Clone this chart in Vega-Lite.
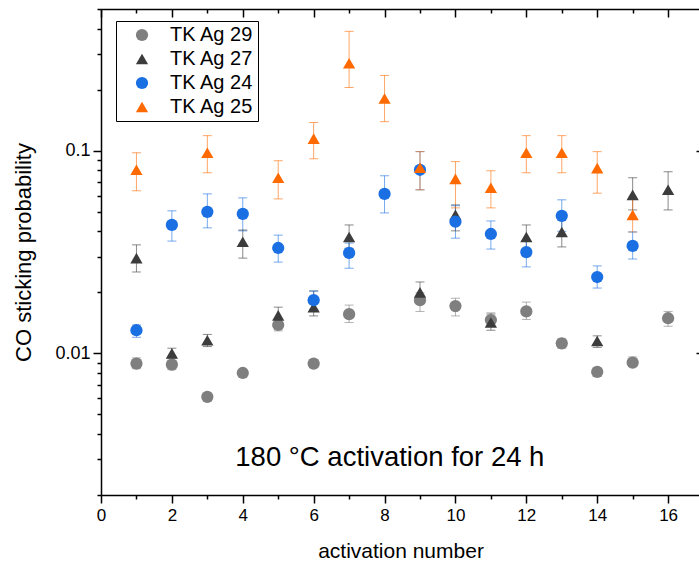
{
  "$schema": "https://vega.github.io/schema/vega-lite/v6.json",
  "width": 599,
  "height": 486,
  "autosize": {"type": "none"},
  "padding": {"left": 101, "top": 9, "right": 0, "bottom": 74},
  "background": "white",
  "config": {
    "view": {"stroke": null},
    "font": "Liberation Sans",
    "axis": {
      "domainColor": "#000000",
      "domainWidth": 1.5,
      "tickColor": "#000000",
      "tickWidth": 1.5,
      "grid": false,
      "labelFont": "Liberation Sans",
      "titleFont": "Liberation Sans",
      "labelColor": "#000000",
      "titleColor": "#000000",
      "titleFontWeight": "normal"
    }
  },
  "data": {
    "values": [
      {"series": "TK Ag 29", "n": 1, "p": 0.0089, "lo": 0.0084, "hi": 0.0095},
      {"series": "TK Ag 29", "n": 2, "p": 0.0088, "lo": 0.0083, "hi": 0.0094},
      {"series": "TK Ag 29", "n": 3, "p": 0.0061, "lo": 0.0059, "hi": 0.0063},
      {"series": "TK Ag 29", "n": 4, "p": 0.0080, "lo": 0.0077, "hi": 0.0083},
      {"series": "TK Ag 29", "n": 5, "p": 0.0138, "lo": 0.0129, "hi": 0.0147},
      {"series": "TK Ag 29", "n": 6, "p": 0.0089, "lo": 0.0085, "hi": 0.0093},
      {"series": "TK Ag 29", "n": 7, "p": 0.0156, "lo": 0.0142, "hi": 0.0173},
      {"series": "TK Ag 29", "n": 9, "p": 0.0183, "lo": 0.0161, "hi": 0.0199},
      {"series": "TK Ag 29", "n": 10, "p": 0.0171, "lo": 0.0153, "hi": 0.0187},
      {"series": "TK Ag 29", "n": 11, "p": 0.0146, "lo": 0.0137, "hi": 0.0155},
      {"series": "TK Ag 29", "n": 12, "p": 0.0161, "lo": 0.0147, "hi": 0.0179},
      {"series": "TK Ag 29", "n": 13, "p": 0.0112, "lo": 0.0106, "hi": 0.0118},
      {"series": "TK Ag 29", "n": 14, "p": 0.0081, "lo": 0.0077, "hi": 0.0084},
      {"series": "TK Ag 29", "n": 15, "p": 0.0090, "lo": 0.0087, "hi": 0.0096},
      {"series": "TK Ag 29", "n": 16, "p": 0.0149, "lo": 0.0136, "hi": 0.0161},
      {"series": "TK Ag 27", "n": 1, "p": 0.0295, "lo": 0.0252, "hi": 0.0343},
      {"series": "TK Ag 27", "n": 2, "p": 0.0100, "lo": 0.0095, "hi": 0.0106},
      {"series": "TK Ag 27", "n": 3, "p": 0.0116, "lo": 0.0108, "hi": 0.0124},
      {"series": "TK Ag 27", "n": 4, "p": 0.0355, "lo": 0.0295, "hi": 0.0406},
      {"series": "TK Ag 27", "n": 5, "p": 0.0154, "lo": 0.0140, "hi": 0.0169},
      {"series": "TK Ag 27", "n": 6, "p": 0.0169, "lo": 0.0153, "hi": 0.0203},
      {"series": "TK Ag 27", "n": 7, "p": 0.0375, "lo": 0.0330, "hi": 0.0430},
      {"series": "TK Ag 27", "n": 9, "p": 0.0200, "lo": 0.0178, "hi": 0.0225},
      {"series": "TK Ag 27", "n": 10, "p": 0.0482, "lo": 0.0402, "hi": 0.0540},
      {"series": "TK Ag 27", "n": 11, "p": 0.0142, "lo": 0.0130, "hi": 0.0158},
      {"series": "TK Ag 27", "n": 12, "p": 0.0375, "lo": 0.0325, "hi": 0.0430},
      {"series": "TK Ag 27", "n": 13, "p": 0.0397, "lo": 0.0335, "hi": 0.0470},
      {"series": "TK Ag 27", "n": 14, "p": 0.0115, "lo": 0.0107, "hi": 0.0122},
      {"series": "TK Ag 27", "n": 15, "p": 0.0605, "lo": 0.0510, "hi": 0.0735},
      {"series": "TK Ag 27", "n": 16, "p": 0.0641, "lo": 0.0510, "hi": 0.0787},
      {"series": "TK Ag 24", "n": 1, "p": 0.0130, "lo": 0.0120, "hi": 0.0138},
      {"series": "TK Ag 24", "n": 2, "p": 0.0430, "lo": 0.0358, "hi": 0.0505},
      {"series": "TK Ag 24", "n": 3, "p": 0.0499, "lo": 0.0416, "hi": 0.0612},
      {"series": "TK Ag 24", "n": 4, "p": 0.0488, "lo": 0.0402, "hi": 0.0585},
      {"series": "TK Ag 24", "n": 5, "p": 0.0331, "lo": 0.0282, "hi": 0.0383},
      {"series": "TK Ag 24", "n": 6, "p": 0.0183, "lo": 0.0165, "hi": 0.0203},
      {"series": "TK Ag 24", "n": 7, "p": 0.0313, "lo": 0.0263, "hi": 0.0350},
      {"series": "TK Ag 24", "n": 8, "p": 0.0612, "lo": 0.0493, "hi": 0.0752},
      {"series": "TK Ag 24", "n": 9, "p": 0.0805, "lo": 0.0641, "hi": 0.0989},
      {"series": "TK Ag 24", "n": 10, "p": 0.0446, "lo": 0.0370, "hi": 0.0535},
      {"series": "TK Ag 24", "n": 11, "p": 0.0388, "lo": 0.0327, "hi": 0.0450},
      {"series": "TK Ag 24", "n": 12, "p": 0.0316, "lo": 0.0267, "hi": 0.0360},
      {"series": "TK Ag 24", "n": 13, "p": 0.0477, "lo": 0.0400, "hi": 0.0572},
      {"series": "TK Ag 24", "n": 14, "p": 0.0238, "lo": 0.0210, "hi": 0.0270},
      {"series": "TK Ag 24", "n": 15, "p": 0.0339, "lo": 0.0292, "hi": 0.0397},
      {"series": "TK Ag 25", "n": 1, "p": 0.0805, "lo": 0.0634, "hi": 0.0977},
      {"series": "TK Ag 25", "n": 3, "p": 0.0977, "lo": 0.0778, "hi": 0.1186},
      {"series": "TK Ag 25", "n": 5, "p": 0.0735, "lo": 0.0578, "hi": 0.0892},
      {"series": "TK Ag 25", "n": 6, "p": 0.1146, "lo": 0.0912, "hi": 0.1377},
      {"series": "TK Ag 25", "n": 7, "p": 0.270, "lo": 0.205, "hi": 0.388},
      {"series": "TK Ag 25", "n": 8, "p": 0.181, "lo": 0.139, "hi": 0.235},
      {"series": "TK Ag 25", "n": 9, "p": 0.0824, "lo": 0.0641, "hi": 0.0989},
      {"series": "TK Ag 25", "n": 10, "p": 0.0726, "lo": 0.0522, "hi": 0.0883},
      {"series": "TK Ag 25", "n": 11, "p": 0.0656, "lo": 0.0522, "hi": 0.0796},
      {"series": "TK Ag 25", "n": 12, "p": 0.0977, "lo": 0.0778, "hi": 0.1186},
      {"series": "TK Ag 25", "n": 13, "p": 0.0977, "lo": 0.0778, "hi": 0.1186},
      {"series": "TK Ag 25", "n": 14, "p": 0.0820, "lo": 0.0617, "hi": 0.0989},
      {"series": "TK Ag 25", "n": 15, "p": 0.0482, "lo": 0.0397, "hi": 0.0578}
    ]
  },
  "resolve": {
    "axis": {"x": "independent", "y": "independent"},
    "legend": {"color": "independent", "shape": "independent"}
  },
  "layer": [
    {
      "mark": {"type": "rule", "strokeWidth": 1, "opacity": 0.6},
      "encoding": {
        "x": {
          "field": "n", "type": "quantitative",
          "scale": {"domain": [0, 16.9], "nice": false, "zero": false},
          "axis": {
            "orient": "bottom",
            "values": [0, 1, 2, 3, 4, 5, 6, 7, 8, 9, 10, 11, 12, 13, 14, 15, 16],
            "labelExpr": "datum.value % 2 === 0 ? datum.label : ''",
            "tickSize": {"condition": {"test": "datum.value % 2 === 0", "value": 8}, "value": 4},
            "labelFontSize": 17,
            "labelPadding": 4,
            "labelFlush": false,
            "title": "activation number",
            "titleFontSize": 21,
            "titlePadding": 17
          }
        },
        "y": {
          "field": "lo", "type": "quantitative",
          "scale": {"type": "log", "domain": [0.002, 0.5], "nice": false},
          "axis": {
            "orient": "left",
            "values": [0.002, 0.003, 0.004, 0.005, 0.006, 0.007, 0.008, 0.009, 0.01, 0.02, 0.03, 0.04, 0.05, 0.06, 0.07, 0.08, 0.09, 0.1, 0.2, 0.3, 0.4, 0.5],
            "labelExpr": "datum.value === 0.1 ? '0.1' : (datum.value === 0.01 ? '0.01' : '')",
            "tickSize": {"condition": {"test": "datum.value === 0.1 || datum.value === 0.01", "value": 8}, "value": 4},
            "labelFontSize": 18,
            "labelPadding": 3,
            "labelFlush": false,
            "title": "CO sticking probability",
            "titleFontSize": 22,
            "titlePadding": 19
          }
        },
        "y2": {"field": "hi"},
        "color": {
          "field": "series", "type": "nominal",
          "scale": {"domain": ["TK Ag 29", "TK Ag 27", "TK Ag 24", "TK Ag 25"], "range": ["#7f7f7f", "#3c3c3c", "#1a6fe3", "#ff6a00"]},
          "legend": null
        }
      }
    },
    {
      "mark": {"type": "tick", "orient": "horizontal", "size": 9, "thickness": 1, "opacity": 0.6},
      "encoding": {
        "x": {
          "field": "n", "type": "quantitative",
          "axis": {
            "orient": "top",
            "values": [0, 1, 2, 3, 4, 5, 6, 7, 8, 9, 10, 11, 12, 13, 14, 15, 16],
            "labels": false,
            "title": null,
            "tickSize": {"condition": {"test": "datum.value % 2 === 0", "value": -8}, "value": -4}
          }
        },
        "y": {
          "field": "lo", "type": "quantitative",
          "axis": {
            "orient": "right",
            "values": [0.01, 0.1],
            "labels": false,
            "title": null,
            "tickSize": -4
          }
        },
        "color": {"field": "series", "type": "nominal", "legend": null}
      }
    },
    {
      "mark": {"type": "tick", "orient": "horizontal", "size": 9, "thickness": 1, "opacity": 0.6},
      "encoding": {
        "x": {"field": "n", "type": "quantitative", "axis": null},
        "y": {"field": "hi", "type": "quantitative", "axis": null},
        "color": {"field": "series", "type": "nominal", "legend": null}
      }
    },
    {
      "mark": {"type": "point", "filled": true, "opacity": 1, "size": 150},
      "encoding": {
        "x": {"field": "n", "type": "quantitative", "axis": null},
        "y": {"field": "p", "type": "quantitative", "axis": null},
        "color": {
          "field": "series", "type": "nominal",
          "legend": {
            "title": null,
            "orient": "none",
            "legendX": 15,
            "legendY": 12,
            "strokeColor": "#000000",
            "padding": 4,
            "symbolOffset": 12,
            "labelOffset": 18,
            "labelFontSize": 20,
            "labelFont": "Liberation Sans",
            "labelColor": "#000000",
            "rowPadding": 4,
            "symbolSize": 150
          }
        },
        "shape": {
          "field": "series", "type": "nominal",
          "scale": {"domain": ["TK Ag 29", "TK Ag 27", "TK Ag 24", "TK Ag 25"], "range": ["circle", "triangle-up", "circle", "triangle-up"]},
          "legend": {
            "title": null,
            "orient": "none",
            "legendX": 15,
            "legendY": 12,
            "strokeColor": "#000000",
            "padding": 4,
            "symbolOffset": 12,
            "labelOffset": 18,
            "labelFontSize": 20,
            "labelFont": "Liberation Sans",
            "labelColor": "#000000",
            "rowPadding": 4,
            "symbolSize": 150
          }
        }
      }
    },
    {
      "data": {"values": [{}]},
      "mark": {"type": "text", "fontSize": 27.5, "font": "Liberation Sans", "color": "#000000", "align": "center", "baseline": "middle"},
      "encoding": {
        "x": {"datum": 8.15, "type": "quantitative", "axis": null},
        "y": {"datum": 0.00305, "type": "quantitative", "axis": null},
        "text": {"value": "180 °C activation for 24 h"}
      }
    }
  ]
}
